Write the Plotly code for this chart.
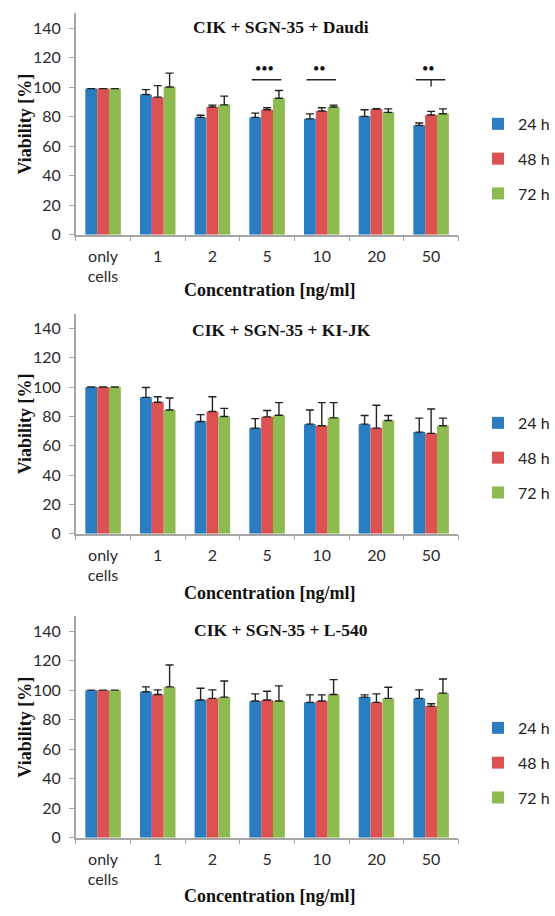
import plotly.graph_objects as go

categories = ["only<br>cells", "1", "2", "5", "10", "20", "50"]
series_names = ["24 h", "48 h", "72 h"]
colors = ["#2A7DC0", "#DC5252", "#8DBB4F"]

daudi_24 = [99, 95, 79.5, 79.5, 78.5, 80.2, 74.1]
daudi_24_err = [0, 3.3, 1.4, 2.9, 3.4, 4.5, 1.6]
daudi_48 = [99, 93.2, 86.5, 84.7, 83.8, 85.1, 81.1]
daudi_48_err = [0, 7.8, 1.3, 1.3, 2.2, 0.3, 2.5]
daudi_72 = [99, 100.1, 88, 92.5, 86.5, 82.9, 82]
daudi_72_err = [0, 9.4, 5.9, 5.2, 1.3, 2.4, 3.3]

kijk_24 = [100, 93, 76.5, 72, 74.7, 74.7, 69.3]
kijk_24_err = [0, 6.7, 4.7, 6.5, 9.7, 5.9, 9.5]
kijk_48 = [100, 89.6, 83.3, 79.7, 73.6, 72, 68.4]
kijk_48_err = [0, 3.8, 10.1, 4.3, 15.8, 15.6, 16.6]
kijk_72 = [100, 84.4, 79.9, 80.8, 79, 77.2, 73.6]
kijk_72_err = [0, 8.1, 5.6, 8.6, 10.4, 3.4, 5.2]

l540_24 = [100, 98.9, 93.3, 92.6, 91.7, 95.3, 94.4]
l540_24_err = [0, 3.3, 8, 4.9, 5.1, 1.5, 5.8]
l540_48 = [100, 97.1, 94.4, 93.3, 92.6, 91.7, 89.2]
l540_48_err = [0, 3.1, 5.8, 6, 4.2, 5.8, 1.6]
l540_72 = [100, 102.2, 95.3, 92.6, 97.1, 94.4, 98]
l540_72_err = [0, 14.8, 10.9, 10.3, 10, 7.6, 9.6]

panel_titles = ["CIK + SGN-35 + Daudi", "CIK + SGN-35 + KI-JK", "CIK + SGN-35 + L-540"]
y_ticks = [0, 20, 40, 60, 80, 100, 120, 140]

# significance marks (Daudi panel)
sig_categories = ["5", "10", "50"]
sig_labels = ["•••", "••", "••"]
sig_level = 105
sig_text_level = 112.5

panels = [
    ([daudi_24, daudi_48, daudi_72], [daudi_24_err, daudi_48_err, daudi_72_err]),
    ([kijk_24, kijk_48, kijk_72], [kijk_24_err, kijk_48_err, kijk_72_err]),
    ([l540_24, l540_48, l540_72], [l540_24_err, l540_48_err, l540_72_err]),
]

W, H = 555, 916
x_dom = [77 / W, 466 / W]
# (pixel of y=0, pixels per unit)
panel_px = [(237, 1.49), (539, 1.481), (846, 1.49)]
legend_top_px = [108, 410, 718]
title_px = [27, 333, 636]
xtitle_px = [293, 599, 905]

sans = "Lato"
serif = "Liberation Serif"

fig = go.Figure()
layout = dict(
    width=W, height=H, margin=dict(l=0, r=0, t=0, b=0),
    paper_bgcolor="white", plot_bgcolor="white",
    barmode="group", bargap=0.35, bargroupgap=0,
    showlegend=True,
)
annotations = []
shapes = []

for p, (vals, errs) in enumerate(panels):
    sfx = "" if p == 0 else str(p + 1)
    xa, ya = "x" + sfx, "y" + sfx
    leg = "legend" + sfx
    for s in range(3):
        fig.add_trace(go.Bar(
            x=categories, y=vals[s], name=series_names[s],
            marker=dict(color=colors[s], line=dict(width=0)),
            error_y=dict(type="data", array=errs[s], arrayminus=[0] * len(errs[s]),
                         symmetric=False, color="#222222", thickness=1.4, width=4),
            xaxis=xa, yaxis=ya, legend=leg, legendgroup=f"g{p}{s}",
        ))
    y0px, ppu = panel_px[p]
    ybot = (H - y0px) / H
    ytop = (H - (y0px - 150 * ppu)) / H
    layout["xaxis" + sfx] = dict(
        domain=x_dom, anchor=ya, type="category", range=[-0.5, 6.5],
        tickson="boundaries", ticks="outside", ticklen=5, tickcolor="#A6A6A6",
        showline=True, linecolor="#A6A6A6", linewidth=1.5, showgrid=False,
        ticklabelstandoff=6,
        tickfont=dict(family=sans, size=16, color="#2b2b2b"),
    )
    layout["yaxis" + sfx] = dict(
        domain=[ybot, ytop], anchor=xa, range=[0, 150], tickvals=y_ticks,
        ticks="outside", ticklen=5, tickcolor="#A6A6A6",
        showline=True, linecolor="#A6A6A6", linewidth=1.5, showgrid=False, zeroline=False,
        ticklabelstandoff=5,
        tickfont=dict(family=sans, size=16, color="#2b2b2b"),
    )
    layout[leg] = dict(
        x=486 / W, xanchor="left", y=(H - legend_top_px[p]) / H, yanchor="top",
        font=dict(family=sans, size=16, color="#222222"),
        tracegroupgap=11, bgcolor="rgba(0,0,0,0)", itemwidth=30,
    )
    annotations.append(dict(
        text=f"<b>{panel_titles[p]}</b>", xref="paper", yref="paper",
        x=286 / W, y=(H - title_px[p]) / H, xanchor="center", yanchor="middle",
        showarrow=False, font=dict(family=serif, size=17.5, color="#111111"),
    ))
    annotations.append(dict(
        text="<b>Concentration [ng/ml]</b>", xref="paper", yref="paper",
        x=274 / W, y=(H - xtitle_px[p]) / H, xanchor="center", yanchor="middle",
        showarrow=False, font=dict(family=serif, size=18, color="#111111"),
    ))
    annotations.append(dict(
        text="<b>Viability [%]</b>", xref="paper", yref="paper", textangle=-90,
        x=25 / W, y=(ybot + ytop) / 2,
        xanchor="center", yanchor="middle",
        showarrow=False, font=dict(family=serif, size=18, color="#111111"),
    ))

for cat, lab in zip(sig_categories, sig_labels):
    i = categories.index(cat)
    shapes.append(dict(type="line", xref="x", yref="y", x0=i - 0.28, x1=i + 0.26,
                       y0=sig_level, y1=sig_level, line=dict(color="#222222", width=1.3)))
    annotations.append(dict(text=lab, xref="x", yref="y", x=i - 0.05, y=sig_text_level,
                            showarrow=False, xanchor="center", yanchor="middle",
                            font=dict(family=serif, size=18, color="#111111")))
    if cat == "50":
        shapes.append(dict(type="line", xref="x", yref="y", x0=i, x1=i,
                           y0=sig_level, y1=sig_level - 4.5,
                           line=dict(color="#222222", width=1.3)))

layout["annotations"] = annotations
layout["shapes"] = shapes
fig.update_layout(**layout)
fig.write_html(
    "out.html",
    config={"displayModeBar": False},
    post_script="document.body.style.margin='0';document.body.style.overflow='hidden';",
)
